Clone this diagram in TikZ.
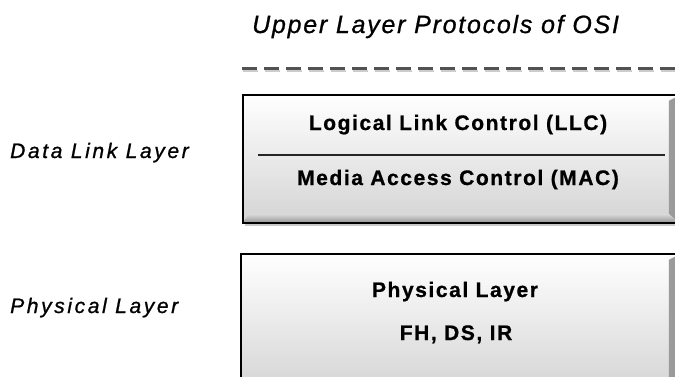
\documentclass[tikz,border=0pt]{standalone}
\usepackage{fontspec}
\setmainfont{Liberation Sans}
\usetikzlibrary{shadows}

\tikzset{
  layerbox/.style={rectangle, draw=black, line width=1.6pt, inner sep=0pt,
    top color=white, bottom color=black!17, anchor=north west,
    drop shadow={shadow xshift=2pt, shadow yshift=-3pt, opacity=0.3, fill=black!70},
    path picture={
      % right-hand bevel
      \shade[left color=black!6, right color=black!40]
        ([xshift=-10pt,yshift=-6pt]path picture bounding box.north east)
        -- ([yshift=-1pt]path picture bounding box.north east)
        -- ([yshift=1pt]path picture bounding box.south east)
        -- ([xshift=-10pt,yshift=8pt]path picture bounding box.south east) -- cycle;
      % bottom bevel
      \shade[top color=black!14, bottom color=black!42]
        ([xshift=6pt,yshift=9pt]path picture bounding box.south west)
        -- ([xshift=-10pt,yshift=9pt]path picture bounding box.south east)
        -- (path picture bounding box.south east)
        -- (path picture bounding box.south west) -- cycle;
    }},
  boxtext/.style={anchor=base, inner sep=0pt, text=black,
    font=\fontsize{21}{25}\selectfont\bfseries\addfontfeatures{LetterSpace=7.5,FakeBold=0.8}},
  sidelabel/.style={anchor=base west, inner sep=0pt, text=black,
    font=\fontsize{21}{25}\selectfont\itshape\addfontfeatures{LetterSpace=12.5,FakeBold=0.9}},
  titletext/.style={anchor=base west, inner sep=0pt, text=black,
    font=\fontsize{25}{30}\selectfont\itshape\addfontfeatures{LetterSpace=7,FakeBold=0.8}},
  dashline/.style={line width=3pt, dash pattern=on 15pt off 7pt, draw=black!68},
  dashshadow/.style={line width=2pt, dash pattern=on 15pt off 7pt, draw=black!20},
  divider/.style={line width=1.3pt, draw=black!85}
}

\begin{document}
\begin{tikzpicture}[x=1pt,y=-1pt]
  \useasboundingbox (0,0) rectangle (675,376);
  \clip (0,0) rectangle (675,376);

  % heading and boundary to the upper layers
  \node[titletext] (upper) at (252,33) {Upper Layer Protocols of OSI};
  \coordinate (dashL) at (242,68);
  \coordinate (dashR) at (680,68);
  \draw[dashshadow] ([xshift=1pt,yshift=-2.5pt]dashL) -- ([xshift=1pt,yshift=-2.5pt]dashR);
  \draw[dashline] (dashL) -- (dashR);

  % data link layer box with LLC / MAC sublayers
  \node[layerbox, minimum width=436pt, minimum height=128pt] (dll) at (242,94) {};
  \node[boxtext] (llc) at (458,130) {Logical Link Control (LLC)};
  \node[boxtext] (mac) at (458,185) {Media Access Control (MAC)};
  \coordinate (divL) at (258,155);
  \coordinate (divR) at (665,155);
  \draw[divider] (divL) -- (divR);

  % physical layer box
  \node[layerbox, minimum width=438pt, minimum height=140pt] (phy) at (240,253) {};
  \node[boxtext] (phyname) at (455,297) {Physical Layer};
  \node[boxtext] (phyvar) at (456,340) {FH, DS, IR};

  % layer names on the left
  \node[sidelabel] (dlllabel) at (10,158) {Data Link Layer};
  \node[sidelabel] (phylabel) at (10,313) {Physical Layer};
\end{tikzpicture}
\end{document}
